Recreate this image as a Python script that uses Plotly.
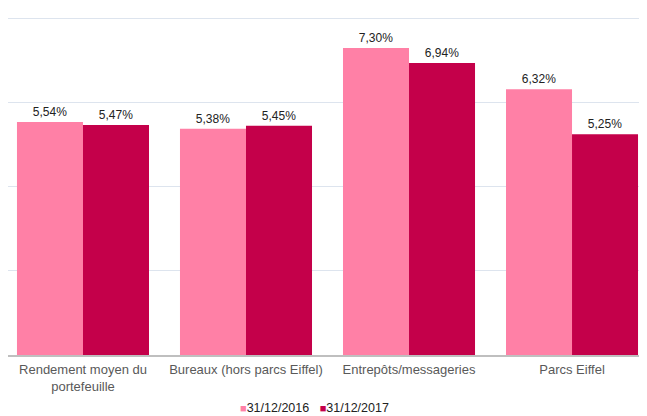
import plotly.graph_objects as go

categories = ["Rendement moyen du<br>portefeuille", "Bureaux (hors parcs Eiffel)", "Entrepôts/messageries", "Parcs Eiffel"]
series_names = ["31/12/2016", "31/12/2017"]
values_2016 = [5.54, 5.38, 7.30, 6.32]
values_2017 = [5.47, 5.45, 6.94, 5.25]
colors = ["#FF80A6", "#C4004A"]

def fmt(vals):
    return [f"{v:.2f}%".replace(".", ",") for v in vals]

fig = go.Figure()
for name, vals, col in zip(series_names, [values_2016, values_2017], colors):
    fig.add_trace(go.Bar(
        x=categories, y=vals, name=name, marker=dict(color=col, line=dict(width=0)),
        text=fmt(vals), textposition="outside", cliponaxis=False,
        textfont=dict(size=12, color="#222222", family="Liberation Sans, Arial, sans-serif"),
        showlegend=False,
    ))

legend_text = "&nbsp;&nbsp;&nbsp;".join(
    f"<span style='color:{c};font-size:11px'>■</span>{n}" for n, c in zip(series_names, colors)
)
fig.add_annotation(
    text=legend_text, xref="paper", yref="paper", x=0.48, xanchor="center",
    y=-0.156, yanchor="middle", showarrow=False,
    font=dict(size=12.5, color="#222222", family="Liberation Sans, Arial, sans-serif"),
)

fig.update_layout(
    width=639, height=408,
    margin=dict(l=0, r=0, t=8, b=61, autoexpand=False),
    barmode="group", bargap=0.19, bargroupgap=0,
    plot_bgcolor="white", paper_bgcolor="white",
    font=dict(family="Liberation Sans, Arial, sans-serif", size=13, color="#595959"),
    showlegend=False,
    xaxis=dict(range=[-0.46, 3.46], showline=True, linecolor="#BFBFBF", linewidth=1.5, ticks="",
               ticklabelstandoff=2, tickfont=dict(size=13, color="#595959")),
    yaxis=dict(range=[0, 8.06], dtick=2, showticklabels=False, showgrid=True, gridcolor="#DDE4EE",
               gridwidth=1, zeroline=False),
)

fig.write_html("out.html")
